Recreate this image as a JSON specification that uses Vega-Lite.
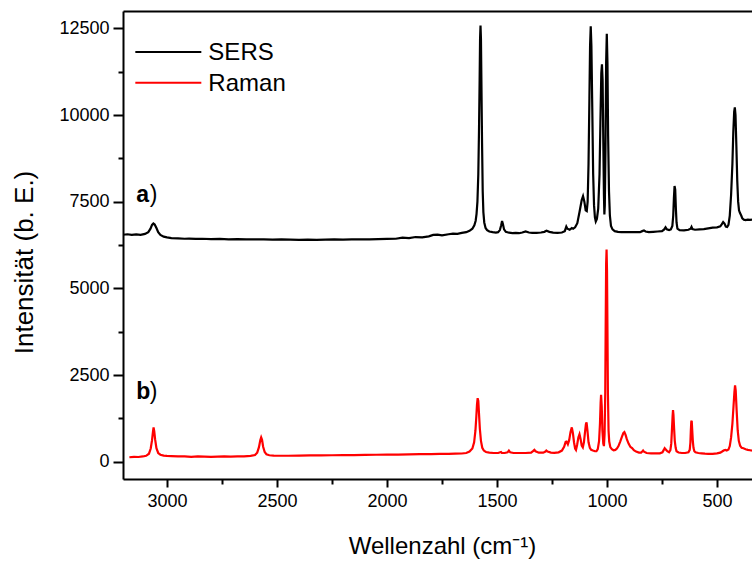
{
  "$schema": "https://vega.github.io/schema/vega-lite/v6.json",
  "width": 629,
  "height": 468,
  "autosize": {"type": "none"},
  "padding": {"left": 123, "top": 11, "right": 0, "bottom": 83},
  "background": "white",
  "config": {
    "view": {"stroke": null},
    "font": "Liberation Sans",
    "axis": {
      "domainColor": "black",
      "domainWidth": 2,
      "tickColor": "black",
      "tickWidth": 2,
      "labelColor": "black",
      "titleColor": "black",
      "grid": false,
      "titleFontWeight": "normal"
    }
  },
  "datasets": {
    "spectra": [
      {"s":"SERS","w":3200,"i":6545},{"s":"SERS","w":3180,"i":6560},{"s":"SERS","w":3160,"i":6540},{"s":"SERS","w":3140,"i":6555},{"s":"SERS","w":3120,"i":6545},{"s":"SERS","w":3100,"i":6570},{"s":"SERS","w":3085,"i":6620},{"s":"SERS","w":3075,"i":6720},{"s":"SERS","w":3068,"i":6830},{"s":"SERS","w":3062,"i":6870},{"s":"SERS","w":3056,"i":6840},{"s":"SERS","w":3048,"i":6740},{"s":"SERS","w":3040,"i":6620},{"s":"SERS","w":3030,"i":6540},{"s":"SERS","w":3015,"i":6490},{"s":"SERS","w":3000,"i":6470},{"s":"SERS","w":2980,"i":6450},{"s":"SERS","w":2950,"i":6440},{"s":"SERS","w":2920,"i":6430},{"s":"SERS","w":2900,"i":6435},{"s":"SERS","w":2870,"i":6425},{"s":"SERS","w":2840,"i":6430},{"s":"SERS","w":2800,"i":6420},{"s":"SERS","w":2760,"i":6425},{"s":"SERS","w":2720,"i":6415},{"s":"SERS","w":2680,"i":6420},{"s":"SERS","w":2640,"i":6410},{"s":"SERS","w":2600,"i":6415},{"s":"SERS","w":2560,"i":6410},{"s":"SERS","w":2520,"i":6405},{"s":"SERS","w":2480,"i":6410},{"s":"SERS","w":2440,"i":6405},{"s":"SERS","w":2400,"i":6400},{"s":"SERS","w":2360,"i":6405},{"s":"SERS","w":2320,"i":6400},{"s":"SERS","w":2280,"i":6405},{"s":"SERS","w":2240,"i":6410},{"s":"SERS","w":2200,"i":6405},{"s":"SERS","w":2160,"i":6410},{"s":"SERS","w":2120,"i":6415},{"s":"SERS","w":2080,"i":6410},{"s":"SERS","w":2040,"i":6420},{"s":"SERS","w":2000,"i":6425},{"s":"SERS","w":1960,"i":6430},{"s":"SERS","w":1930,"i":6460},{"s":"SERS","w":1900,"i":6450},{"s":"SERS","w":1870,"i":6480},{"s":"SERS","w":1840,"i":6470},{"s":"SERS","w":1810,"i":6500},{"s":"SERS","w":1790,"i":6540},{"s":"SERS","w":1770,"i":6550},{"s":"SERS","w":1750,"i":6530},{"s":"SERS","w":1720,"i":6560},{"s":"SERS","w":1700,"i":6580},{"s":"SERS","w":1680,"i":6570},{"s":"SERS","w":1660,"i":6600},{"s":"SERS","w":1640,"i":6620},{"s":"SERS","w":1625,"i":6660},{"s":"SERS","w":1612,"i":6720},{"s":"SERS","w":1603,"i":6820},{"s":"SERS","w":1597,"i":6950},{"s":"SERS","w":1593,"i":7150},{"s":"SERS","w":1589,"i":7500},{"s":"SERS","w":1585,"i":8300},{"s":"SERS","w":1582,"i":9500},{"s":"SERS","w":1579,"i":11000},{"s":"SERS","w":1577,"i":12200},{"s":"SERS","w":1575,"i":12580},{"s":"SERS","w":1573,"i":12200},{"s":"SERS","w":1571,"i":11000},{"s":"SERS","w":1568,"i":9200},{"s":"SERS","w":1565,"i":7800},{"s":"SERS","w":1562,"i":7200},{"s":"SERS","w":1558,"i":6900},{"s":"SERS","w":1552,"i":6740},{"s":"SERS","w":1545,"i":6680},{"s":"SERS","w":1535,"i":6640},{"s":"SERS","w":1520,"i":6620},{"s":"SERS","w":1505,"i":6610},{"s":"SERS","w":1495,"i":6620},{"s":"SERS","w":1487,"i":6680},{"s":"SERS","w":1481,"i":6820},{"s":"SERS","w":1477,"i":6940},{"s":"SERS","w":1473,"i":6850},{"s":"SERS","w":1468,"i":6700},{"s":"SERS","w":1460,"i":6630},{"s":"SERS","w":1445,"i":6605},{"s":"SERS","w":1430,"i":6595},{"s":"SERS","w":1415,"i":6600},{"s":"SERS","w":1400,"i":6590},{"s":"SERS","w":1385,"i":6610},{"s":"SERS","w":1370,"i":6640},{"s":"SERS","w":1355,"i":6610},{"s":"SERS","w":1340,"i":6600},{"s":"SERS","w":1320,"i":6600},{"s":"SERS","w":1300,"i":6610},{"s":"SERS","w":1285,"i":6630},{"s":"SERS","w":1275,"i":6660},{"s":"SERS","w":1262,"i":6630},{"s":"SERS","w":1245,"i":6605},{"s":"SERS","w":1225,"i":6600},{"s":"SERS","w":1205,"i":6610},{"s":"SERS","w":1192,"i":6650},{"s":"SERS","w":1185,"i":6780},{"s":"SERS","w":1180,"i":6720},{"s":"SERS","w":1170,"i":6690},{"s":"SERS","w":1160,"i":6740},{"s":"SERS","w":1154,"i":6720},{"s":"SERS","w":1145,"i":6760},{"s":"SERS","w":1135,"i":6880},{"s":"SERS","w":1125,"i":7200},{"s":"SERS","w":1115,"i":7550},{"s":"SERS","w":1109,"i":7660},{"s":"SERS","w":1103,"i":7500},{"s":"SERS","w":1097,"i":7250},{"s":"SERS","w":1092,"i":7230},{"s":"SERS","w":1088,"i":7500},{"s":"SERS","w":1084,"i":8600},{"s":"SERS","w":1080,"i":10500},{"s":"SERS","w":1077,"i":12000},{"s":"SERS","w":1074,"i":12560},{"s":"SERS","w":1071,"i":12000},{"s":"SERS","w":1067,"i":10200},{"s":"SERS","w":1063,"i":8300},{"s":"SERS","w":1059,"i":7400},{"s":"SERS","w":1055,"i":7050},{"s":"SERS","w":1051,"i":6930},{"s":"SERS","w":1046,"i":7000},{"s":"SERS","w":1040,"i":7300},{"s":"SERS","w":1034,"i":8300},{"s":"SERS","w":1030,"i":9800},{"s":"SERS","w":1026,"i":11200},{"s":"SERS","w":1023,"i":11460},{"s":"SERS","w":1020,"i":11000},{"s":"SERS","w":1017,"i":9300},{"s":"SERS","w":1014,"i":7700},{"s":"SERS","w":1012,"i":7130},{"s":"SERS","w":1010,"i":7400},{"s":"SERS","w":1007,"i":9000},{"s":"SERS","w":1004,"i":11500},{"s":"SERS","w":1001,"i":12340},{"s":"SERS","w":998,"i":11500},{"s":"SERS","w":995,"i":9400},{"s":"SERS","w":991,"i":7800},{"s":"SERS","w":987,"i":7100},{"s":"SERS","w":982,"i":6800},{"s":"SERS","w":975,"i":6700},{"s":"SERS","w":965,"i":6650},{"s":"SERS","w":950,"i":6630},{"s":"SERS","w":935,"i":6620},{"s":"SERS","w":900,"i":6620},{"s":"SERS","w":870,"i":6620},{"s":"SERS","w":850,"i":6620},{"s":"SERS","w":840,"i":6650},{"s":"SERS","w":832,"i":6670},{"s":"SERS","w":825,"i":6640},{"s":"SERS","w":810,"i":6620},{"s":"SERS","w":790,"i":6630},{"s":"SERS","w":770,"i":6640},{"s":"SERS","w":750,"i":6650},{"s":"SERS","w":740,"i":6700},{"s":"SERS","w":734,"i":6760},{"s":"SERS","w":728,"i":6700},{"s":"SERS","w":718,"i":6680},{"s":"SERS","w":710,"i":6700},{"s":"SERS","w":703,"i":6800},{"s":"SERS","w":699,"i":7100},{"s":"SERS","w":696,"i":7600},{"s":"SERS","w":693,"i":7950},{"s":"SERS","w":690,"i":7850},{"s":"SERS","w":687,"i":7300},{"s":"SERS","w":684,"i":6900},{"s":"SERS","w":680,"i":6720},{"s":"SERS","w":670,"i":6680},{"s":"SERS","w":650,"i":6670},{"s":"SERS","w":630,"i":6690},{"s":"SERS","w":620,"i":6720},{"s":"SERS","w":616,"i":6770},{"s":"SERS","w":612,"i":6710},{"s":"SERS","w":600,"i":6690},{"s":"SERS","w":580,"i":6700},{"s":"SERS","w":560,"i":6710},{"s":"SERS","w":540,"i":6730},{"s":"SERS","w":520,"i":6750},{"s":"SERS","w":500,"i":6760},{"s":"SERS","w":485,"i":6790},{"s":"SERS","w":478,"i":6850},{"s":"SERS","w":472,"i":6910},{"s":"SERS","w":466,"i":6870},{"s":"SERS","w":460,"i":6780},{"s":"SERS","w":454,"i":6770},{"s":"SERS","w":448,"i":6830},{"s":"SERS","w":442,"i":7100},{"s":"SERS","w":436,"i":7700},{"s":"SERS","w":430,"i":8600},{"s":"SERS","w":426,"i":9500},{"s":"SERS","w":422,"i":10100},{"s":"SERS","w":419,"i":10220},{"s":"SERS","w":416,"i":10000},{"s":"SERS","w":412,"i":9100},{"s":"SERS","w":408,"i":8100},{"s":"SERS","w":404,"i":7500},{"s":"SERS","w":400,"i":7250},{"s":"SERS","w":396,"i":7180},{"s":"SERS","w":390,"i":7100},{"s":"SERS","w":385,"i":7020},{"s":"SERS","w":378,"i":6980},{"s":"SERS","w":370,"i":6970},{"s":"SERS","w":360,"i":6980},{"s":"SERS","w":350,"i":6975},{"s":"SERS","w":341,"i":6985},
      {"s":"Raman","w":3171,"i":127},{"s":"Raman","w":3150,"i":140},{"s":"Raman","w":3130,"i":135},{"s":"Raman","w":3110,"i":150},{"s":"Raman","w":3095,"i":170},{"s":"Raman","w":3082,"i":230},{"s":"Raman","w":3074,"i":380},{"s":"Raman","w":3068,"i":620},{"s":"Raman","w":3064,"i":850},{"s":"Raman","w":3061,"i":985},{"s":"Raman","w":3058,"i":880},{"s":"Raman","w":3054,"i":640},{"s":"Raman","w":3048,"i":390},{"s":"Raman","w":3040,"i":250},{"s":"Raman","w":3030,"i":200},{"s":"Raman","w":3015,"i":175},{"s":"Raman","w":3000,"i":165},{"s":"Raman","w":2980,"i":160},{"s":"Raman","w":2950,"i":150},{"s":"Raman","w":2920,"i":155},{"s":"Raman","w":2890,"i":140},{"s":"Raman","w":2860,"i":150},{"s":"Raman","w":2830,"i":145},{"s":"Raman","w":2800,"i":140},{"s":"Raman","w":2770,"i":145},{"s":"Raman","w":2740,"i":150},{"s":"Raman","w":2710,"i":145},{"s":"Raman","w":2680,"i":150},{"s":"Raman","w":2650,"i":155},{"s":"Raman","w":2620,"i":165},{"s":"Raman","w":2600,"i":190},{"s":"Raman","w":2590,"i":260},{"s":"Raman","w":2582,"i":420},{"s":"Raman","w":2576,"i":620},{"s":"Raman","w":2572,"i":700},{"s":"Raman","w":2568,"i":630},{"s":"Raman","w":2563,"i":430},{"s":"Raman","w":2556,"i":280},{"s":"Raman","w":2548,"i":210},{"s":"Raman","w":2535,"i":185},{"s":"Raman","w":2515,"i":175},{"s":"Raman","w":2490,"i":170},{"s":"Raman","w":2450,"i":170},{"s":"Raman","w":2400,"i":175},{"s":"Raman","w":2350,"i":180},{"s":"Raman","w":2300,"i":180},{"s":"Raman","w":2250,"i":185},{"s":"Raman","w":2200,"i":190},{"s":"Raman","w":2150,"i":190},{"s":"Raman","w":2100,"i":195},{"s":"Raman","w":2050,"i":200},{"s":"Raman","w":2000,"i":205},{"s":"Raman","w":1950,"i":205},{"s":"Raman","w":1900,"i":210},{"s":"Raman","w":1850,"i":215},{"s":"Raman","w":1800,"i":220},{"s":"Raman","w":1760,"i":225},{"s":"Raman","w":1720,"i":225},{"s":"Raman","w":1690,"i":230},{"s":"Raman","w":1660,"i":235},{"s":"Raman","w":1640,"i":250},{"s":"Raman","w":1625,"i":290},{"s":"Raman","w":1612,"i":380},{"s":"Raman","w":1604,"i":560},{"s":"Raman","w":1598,"i":900},{"s":"Raman","w":1594,"i":1300},{"s":"Raman","w":1591,"i":1650},{"s":"Raman","w":1588,"i":1830},{"s":"Raman","w":1585,"i":1750},{"s":"Raman","w":1582,"i":1400},{"s":"Raman","w":1578,"i":950},{"s":"Raman","w":1573,"i":600},{"s":"Raman","w":1567,"i":400},{"s":"Raman","w":1560,"i":320},{"s":"Raman","w":1550,"i":280},{"s":"Raman","w":1535,"i":260},{"s":"Raman","w":1515,"i":250},{"s":"Raman","w":1495,"i":250},{"s":"Raman","w":1482,"i":280},{"s":"Raman","w":1478,"i":250},{"s":"Raman","w":1465,"i":250},{"s":"Raman","w":1452,"i":270},{"s":"Raman","w":1446,"i":320},{"s":"Raman","w":1440,"i":270},{"s":"Raman","w":1425,"i":250},{"s":"Raman","w":1400,"i":250},{"s":"Raman","w":1370,"i":250},{"s":"Raman","w":1345,"i":260},{"s":"Raman","w":1335,"i":310},{"s":"Raman","w":1330,"i":340},{"s":"Raman","w":1325,"i":300},{"s":"Raman","w":1310,"i":260},{"s":"Raman","w":1290,"i":260},{"s":"Raman","w":1280,"i":290},{"s":"Raman","w":1276,"i":320},{"s":"Raman","w":1270,"i":290},{"s":"Raman","w":1255,"i":260},{"s":"Raman","w":1240,"i":255},{"s":"Raman","w":1220,"i":270},{"s":"Raman","w":1205,"i":320},{"s":"Raman","w":1195,"i":430},{"s":"Raman","w":1188,"i":570},{"s":"Raman","w":1184,"i":580},{"s":"Raman","w":1178,"i":500},{"s":"Raman","w":1172,"i":620},{"s":"Raman","w":1166,"i":850},{"s":"Raman","w":1160,"i":990},{"s":"Raman","w":1155,"i":820},{"s":"Raman","w":1150,"i":560},{"s":"Raman","w":1145,"i":380},{"s":"Raman","w":1141,"i":340},{"s":"Raman","w":1136,"i":480},{"s":"Raman","w":1130,"i":700},{"s":"Raman","w":1125,"i":790},{"s":"Raman","w":1120,"i":650},{"s":"Raman","w":1115,"i":460},{"s":"Raman","w":1110,"i":410},{"s":"Raman","w":1105,"i":560},{"s":"Raman","w":1100,"i":850},{"s":"Raman","w":1096,"i":1080},{"s":"Raman","w":1093,"i":1130},{"s":"Raman","w":1089,"i":900},{"s":"Raman","w":1084,"i":560},{"s":"Raman","w":1078,"i":400},{"s":"Raman","w":1072,"i":340},{"s":"Raman","w":1064,"i":320},{"s":"Raman","w":1055,"i":300},{"s":"Raman","w":1048,"i":300},{"s":"Raman","w":1042,"i":360},{"s":"Raman","w":1036,"i":600},{"s":"Raman","w":1032,"i":1100},{"s":"Raman","w":1029,"i":1700},{"s":"Raman","w":1027,"i":1930},{"s":"Raman","w":1024,"i":1600},{"s":"Raman","w":1021,"i":900},{"s":"Raman","w":1017,"i":520},{"s":"Raman","w":1014,"i":450},{"s":"Raman","w":1011,"i":800},{"s":"Raman","w":1008,"i":2000},{"s":"Raman","w":1006,"i":4000},{"s":"Raman","w":1004,"i":5700},{"s":"Raman","w":1002,"i":6120},{"s":"Raman","w":1000,"i":5500},{"s":"Raman","w":998,"i":3800},{"s":"Raman","w":996,"i":2000},{"s":"Raman","w":993,"i":900},{"s":"Raman","w":990,"i":580},{"s":"Raman","w":985,"i":420},{"s":"Raman","w":978,"i":360},{"s":"Raman","w":970,"i":330},{"s":"Raman","w":962,"i":340},{"s":"Raman","w":955,"i":380},{"s":"Raman","w":948,"i":450},{"s":"Raman","w":940,"i":580},{"s":"Raman","w":932,"i":720},{"s":"Raman","w":926,"i":820},{"s":"Raman","w":921,"i":850},{"s":"Raman","w":916,"i":780},{"s":"Raman","w":910,"i":650},{"s":"Raman","w":902,"i":520},{"s":"Raman","w":894,"i":430},{"s":"Raman","w":886,"i":390},{"s":"Raman","w":878,"i":330},{"s":"Raman","w":868,"i":290},{"s":"Raman","w":855,"i":260},{"s":"Raman","w":845,"i":260},{"s":"Raman","w":840,"i":290},{"s":"Raman","w":836,"i":320},{"s":"Raman","w":832,"i":290},{"s":"Raman","w":820,"i":250},{"s":"Raman","w":800,"i":240},{"s":"Raman","w":780,"i":240},{"s":"Raman","w":760,"i":240},{"s":"Raman","w":748,"i":270},{"s":"Raman","w":742,"i":340},{"s":"Raman","w":738,"i":390},{"s":"Raman","w":734,"i":360},{"s":"Raman","w":726,"i":300},{"s":"Raman","w":718,"i":270},{"s":"Raman","w":712,"i":330},{"s":"Raman","w":708,"i":520},{"s":"Raman","w":705,"i":900},{"s":"Raman","w":702,"i":1300},{"s":"Raman","w":700,"i":1490},{"s":"Raman","w":698,"i":1350},{"s":"Raman","w":695,"i":950},{"s":"Raman","w":692,"i":600},{"s":"Raman","w":688,"i":400},{"s":"Raman","w":684,"i":300},{"s":"Raman","w":675,"i":265},{"s":"Raman","w":660,"i":250},{"s":"Raman","w":645,"i":250},{"s":"Raman","w":630,"i":270},{"s":"Raman","w":624,"i":340},{"s":"Raman","w":621,"i":550},{"s":"Raman","w":619,"i":900},{"s":"Raman","w":617,"i":1150},{"s":"Raman","w":615,"i":1180},{"s":"Raman","w":613,"i":950},{"s":"Raman","w":610,"i":600},{"s":"Raman","w":607,"i":400},{"s":"Raman","w":603,"i":300},{"s":"Raman","w":598,"i":270},{"s":"Raman","w":585,"i":250},{"s":"Raman","w":570,"i":240},{"s":"Raman","w":555,"i":230},{"s":"Raman","w":540,"i":225},{"s":"Raman","w":520,"i":225},{"s":"Raman","w":500,"i":240},{"s":"Raman","w":485,"i":260},{"s":"Raman","w":475,"i":300},{"s":"Raman","w":468,"i":330},{"s":"Raman","w":462,"i":340},{"s":"Raman","w":456,"i":320},{"s":"Raman","w":448,"i":350},{"s":"Raman","w":442,"i":450},{"s":"Raman","w":436,"i":700},{"s":"Raman","w":430,"i":1100},{"s":"Raman","w":425,"i":1600},{"s":"Raman","w":421,"i":2000},{"s":"Raman","w":418,"i":2200},{"s":"Raman","w":415,"i":2050},{"s":"Raman","w":411,"i":1500},{"s":"Raman","w":406,"i":900},{"s":"Raman","w":401,"i":600},{"s":"Raman","w":395,"i":460},{"s":"Raman","w":388,"i":400},{"s":"Raman","w":380,"i":385},{"s":"Raman","w":370,"i":360},{"s":"Raman","w":360,"i":340},{"s":"Raman","w":350,"i":330},{"s":"Raman","w":341,"i":320}
    ],
    "legend": [
      {"s": "SERS", "w": 3144, "w2": 2844, "i": 11814, "tw": 2812, "ti": 11582},
      {"s": "Raman", "w": 3144, "w2": 2844, "i": 10930, "tw": 2812, "ti": 10688}
    ],
    "letters": [
      {"t": "a", "w": 3140, "i": 7500},
      {"t": "b", "w": 3140, "i": 1811}
    ],
    "parens": [
      {"t": ")", "w": 3078, "i": 7500},
      {"t": ")", "w": 3078, "i": 1811}
    ]
  },
  "resolve": {"axis": {"x": "independent", "y": "independent"}},
  "layer": [
    {
      "data": {"name": "spectra"},
      "mark": {"type": "line", "strokeWidth": 2.2, "clip": true},
      "encoding": {
        "x": {
          "field": "w", "type": "quantitative",
          "scale": {"domain": [3200, 341], "nice": false, "zero": false},
          "axis": {
            "orient": "bottom",
            "values": [3000, 2750, 2500, 2250, 2000, 1750, 1500, 1250, 1000, 750, 500],
            "format": "d",
            "labelExpr": "datum.value % 500 === 0 ? datum.label : ''",
            "tickSize": {"condition": {"test": "datum.value % 500 === 0", "value": 8}, "value": 5},
            "labelFontSize": 18,
            "labelPadding": 5,
            "title": "Wellenzahl (cm⁻¹)",
            "titleFontSize": 24,
            "titleBaseline": "alphabetic",
            "titleY": 74,
            "titleX": 319
          }
        },
        "y": {
          "field": "i", "type": "quantitative",
          "scale": {"domain": [-500, 13000], "nice": false, "zero": false},
          "axis": {
            "orient": "left",
            "values": [0, 1250, 2500, 3750, 5000, 6250, 7500, 8750, 10000, 11250, 12500],
            "format": "d",
            "labelExpr": "datum.value % 2500 === 0 ? datum.label : ''",
            "tickSize": {"condition": {"test": "datum.value % 2500 === 0", "value": 10}, "value": 5},
            "labelFontSize": 18,
            "labelPadding": 4,
            "title": "Intensität (b. E.)",
            "titleFontSize": 26,
            "titleBaseline": "bottom",
            "titleX": -86,
            "titleY": 251,
            "titleAngle": -90
          }
        },
        "color": {
          "field": "s", "type": "nominal",
          "scale": {"domain": ["SERS", "Raman"], "range": ["#000000", "#ff0000"]},
          "legend": null
        }
      }
    },
    {
      "data": {"name": "legend"},
      "mark": {"type": "rule", "strokeWidth": 2},
      "encoding": {
        "x": {"field": "w", "type": "quantitative", "axis": null},
        "x2": {"field": "w2"},
        "y": {"field": "i", "type": "quantitative", "axis": null},
        "color": {"field": "s", "type": "nominal", "legend": null}
      }
    },
    {
      "data": {"name": "legend"},
      "mark": {"type": "text", "align": "left", "baseline": "alphabetic", "fontSize": 24, "color": "black"},
      "encoding": {
        "x": {"field": "tw", "type": "quantitative", "axis": null},
        "y": {"field": "ti", "type": "quantitative", "axis": null},
        "text": {"field": "s"}
      }
    },
    {
      "data": {"name": "letters"},
      "mark": {"type": "text", "align": "left", "baseline": "alphabetic", "fontSize": 23, "fontWeight": "bold", "color": "black"},
      "encoding": {
        "x": {"field": "w", "type": "quantitative",
          "axis": {"orient": "top", "labels": false, "ticks": false, "title": null, "domain": true}},
        "y": {"field": "i", "type": "quantitative", "axis": null},
        "text": {"field": "t"}
      }
    },
    {
      "data": {"name": "parens"},
      "mark": {"type": "text", "align": "left", "baseline": "alphabetic", "fontSize": 23, "color": "black"},
      "encoding": {
        "x": {"field": "w", "type": "quantitative", "axis": null},
        "y": {"field": "i", "type": "quantitative", "axis": null},
        "text": {"field": "t"}
      }
    }
  ]
}
